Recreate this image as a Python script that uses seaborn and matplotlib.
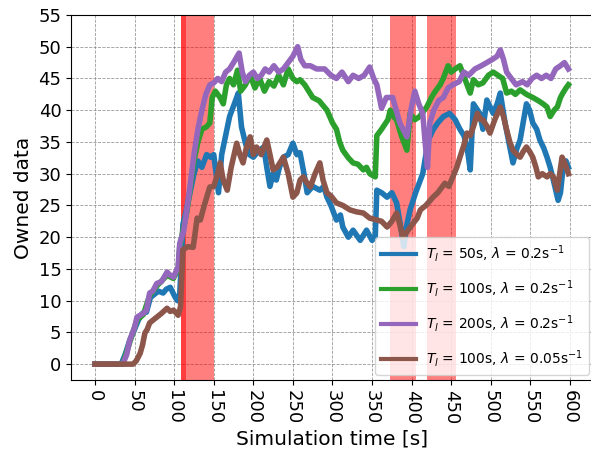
import matplotlib
matplotlib.use("Agg")
import matplotlib.pyplot as plt
import seaborn as sns
import pandas as pd

# ---- data ----
t_blue = [0, 33, 38, 44, 50, 55, 60, 65, 70, 75, 80, 86, 90, 95, 101, 104, 107, 109, 111, 115,
          120, 125, 130, 135, 141, 146, 150, 156, 160, 165, 170, 176, 181, 185, 190, 195, 200,
          206, 213, 217, 221, 225, 229, 233, 238, 244, 250, 255, 259, 264, 268, 275, 284, 289,
          293, 298, 305, 310, 313, 320, 326, 335, 343, 350, 354, 356, 362, 369, 375, 381, 387,
          390, 394, 398, 405, 414, 421, 427, 433, 440, 448, 455, 461, 466, 470, 474, 478, 486,
          490, 495, 503, 508, 512, 518, 524, 528, 533, 537, 545, 549, 553, 558, 562, 567, 571,
          575, 579, 585, 588, 591, 595, 598]
v_blue = [0, 0, 1.5, 3.8, 5.5, 7, 8, 8.2, 10.5, 11, 11.5, 11.2, 11.8, 12.1, 10.6, 10, 11, 16, 22, 24,
          27, 30, 32, 31, 33, 32.6, 33, 27, 33, 36, 39, 41, 42.7, 37.4, 34.8, 33, 32.6,
          33.5, 34.2, 31, 28, 30, 29, 31, 32.6, 33, 34.8, 33, 33.3, 30, 27, 28, 27.4, 28,
          26.3, 25, 22.7, 23.5, 21.6, 20, 21.1, 19.5, 21.1, 19.5, 20, 27.4, 27, 26.3, 27, 25.4, 21,
          18.5, 22, 24.3, 27, 30, 35.3, 36.9, 38, 39, 39.5, 38.5, 37, 36, 34.2, 30.6, 41, 39.5,
          37, 41.6, 39.5, 41, 42.7, 38, 34.2, 31.7, 34, 35.3, 41, 40, 38, 37, 35.3, 34, 32.6,
          31, 29, 25.8, 27, 30.6, 32, 31]

t_green = [0, 35, 44, 53, 61, 69, 78, 91, 99, 105, 107, 116, 125, 130, 135, 141, 145, 148, 152,
           158, 162, 166, 170, 175, 180, 184, 190, 196, 202, 208, 214, 220, 226, 232, 238, 244,
           250, 255, 259, 265, 270, 275, 283, 293, 300, 305, 309, 313, 320, 326, 332, 339, 343,
           347, 354, 356, 362, 370, 373, 377, 381, 387, 394, 398, 404, 410, 419, 425, 430, 436,
           440, 446, 450, 455, 461, 467, 474, 478, 484, 490, 497, 503, 509, 515, 520, 526, 531,
           537, 545, 553, 560, 566, 571, 575, 580, 584, 588, 591, 595, 598]
v_green = [0, 0, 3.5, 7, 7.8, 10.8, 12.3, 14, 13.5, 15, 18.5, 24, 32, 35, 37, 37.4, 38, 42, 43,
           42, 41, 44, 45, 44, 46.3, 43, 44, 45.5, 43.5, 45, 43, 44.5, 43.8, 45.5, 44, 46.5,
           45, 44.5, 44.8, 44, 43, 42, 41.5, 40, 38, 37, 35, 33.7, 32.5, 31.7, 31.5, 30.6, 31,
           30, 29.5, 36, 37, 38.5, 40, 39, 38.5, 36, 33.7, 39.5, 38.5, 39, 40.5, 42, 43, 44,
           45, 47, 46, 46.5, 47, 45, 42.7, 44.8, 44, 44.3, 45.5, 46, 45.5, 45, 42.7, 43, 42.5,
           43.2, 42.5, 42, 41.5, 41, 40.5, 39, 40, 40.5, 42, 42.7, 43.5, 44]

t_purple = [0, 35, 40, 44, 50, 53, 61, 65, 69, 73, 78, 84, 91, 95, 99, 105, 107, 112, 116, 120,
            125, 130, 135, 140, 145, 150, 155, 160, 165, 170, 175, 182, 186, 190, 195, 200, 205,
            210, 215, 220, 226, 232, 238, 244, 250, 256, 260, 265, 272, 280, 290, 298, 305, 312,
            320, 326, 333, 340, 347, 352, 356, 362, 368, 376, 385, 394, 399, 404, 409, 414, 417,
            420, 423, 428, 434, 440, 446, 452, 460, 466, 472, 480, 488, 495, 502, 508, 512, 516,
            520, 527, 532, 540, 546, 552, 558, 564, 570, 576, 582, 588, 593, 598]
v_purple = [0, 0, 1.5, 3.8, 5.8, 7.4, 8, 8.5, 11.2, 11.5, 12.7, 13, 14.5, 14, 13.7, 15.3, 19, 21, 24.3, 28,
            33, 37, 40, 42.5, 44, 44.3, 45, 44.5, 46, 46.5, 47.5, 49, 46, 44.5, 45.5, 46, 45,
            45.5, 46.5, 46, 47, 46, 46.5, 47.5, 48.5, 50, 48, 47, 47, 46.5, 46.5, 45.5, 45, 46,
            44.5, 45.5, 45, 45.5, 46.8, 45, 44, 40.3, 42, 42, 38, 35.8, 40, 43, 41, 39.5, 35,
            31, 38, 40, 41.5, 42, 43.5, 44, 44.5, 46, 45.5, 46.5, 47, 47.5, 48, 48.5, 49.5, 48,
            46, 44.8, 44, 44.5, 44, 45, 45.5, 45, 45.5, 45, 46.5, 47, 47.5, 46.5]

t_brown = [0, 48, 52, 57, 60, 63, 66, 69, 74, 78, 84, 91, 95, 99, 103, 105, 108, 110, 111, 117,
           124, 129, 133, 138, 145, 150, 155, 158, 162, 167, 172, 179, 183, 187, 191, 196, 200,
           204, 210, 217, 221, 225, 230, 238, 244, 250, 255, 259, 263, 268, 272, 278, 284, 288,
           293, 298, 305, 313, 322, 330, 339, 347, 356, 362, 369, 375, 381, 385, 389, 395, 402,
           407, 411, 418, 427, 433, 436, 442, 447, 452, 457, 461, 466, 470, 474, 478, 483, 487,
           490, 495, 499, 505, 512, 516, 520, 524, 528, 533, 537, 541, 545, 549, 553, 557, 560,
           565, 571, 575, 579, 584, 587, 590, 594, 598]
v_brown = [0, 0, 0.5, 1.7, 3, 4.9, 5.5, 6.5, 7, 7.4, 8, 8.8, 8.3, 8.5, 8, 7.7, 9, 15, 18, 18.5,
           18.4, 23, 22.7, 25, 27.9, 28, 30, 31.7, 29, 27.4, 31, 34.8, 33, 31.7, 34, 35.8, 33,
           34.2, 33, 35.3, 33, 30.6, 31, 32.6, 30, 26.3, 27, 29, 29.5, 28.5, 27.9, 30, 31.7, 29,
           27, 26.5, 25.4, 25, 24.3, 24, 23.8, 23, 22.7, 22.5, 21.6, 22.5, 23.8, 22, 20, 21, 22.2,
           23, 24.3, 25, 26.3, 27, 27.5, 28.5, 28, 29.5, 31, 32.6, 34.5, 36.4, 36, 37.4, 39.5, 38.5,
           38.5, 37.5, 36.4, 38.5, 40.5, 39, 36.9, 35, 33.7, 33, 32.6, 33.5, 34.2, 33.5, 32.6, 31, 29.5,
           30, 29.5, 30, 29.5, 27.4, 30, 32.6, 31.5, 30]

labels = [r"$T_l$ = 50s, $\lambda$ = 0.2s$^{-1}$",
          r"$T_l$ = 100s, $\lambda$ = 0.2s$^{-1}$",
          r"$T_l$ = 200s, $\lambda$ = 0.2s$^{-1}$",
          r"$T_l$ = 100s, $\lambda$ = 0.05s$^{-1}$"]
colors = ["#1f77b4", "#2ca02c", "#9467bd", "#8c564b"]

# shaded intervals (start, end) in seconds
spans = [(108, 150), (108, 115), (373, 406), (419, 456)]

frames = []
for lab, t, v in zip(labels, [t_blue, t_green, t_purple, t_brown],
                     [v_blue, v_green, v_purple, v_brown]):
    frames.append(pd.DataFrame({"t": t, "v": v, "series": lab}))
df = pd.concat(frames, ignore_index=True)

fig = plt.figure(figsize=(5.91, 4.58), dpi=100)
ax = fig.add_axes([0.1206, 0.1703, 0.884, 0.797])

for a, b in spans:
    ax.axvspan(a, b, color="red", alpha=0.5, lw=0, zorder=1)

sns.lineplot(data=df, x="t", y="v", hue="series", hue_order=labels, palette=colors,
             estimator=None, sort=False, linewidth=4, ax=ax, zorder=2)

ax.set_xlim(-30, 630)
ax.set_ylim(-2.5, 55)
ax.set_xticks(range(0, 601, 50))
ax.set_yticks(range(0, 56, 5))
ax.tick_params(axis="both", labelsize=13)
ax.tick_params(axis="x", labelrotation=-90)
ax.grid(True, linestyle="--", color="gray", linewidth=0.6, alpha=0.8)
ax.set_axisbelow(True)
ax.set_xlabel("Simulation time [s]", fontsize=14.5)
ax.set_ylabel("Owned data", fontsize=14.5)

leg = ax.legend(loc="lower right", fontsize=10, labelspacing=1.0, handlelength=2.5,
                handletextpad=0.7, borderpad=0.45, borderaxespad=0.35)
for line in leg.get_lines():
    line.set_linewidth(3)

fig.savefig("out.png", dpi=100)
